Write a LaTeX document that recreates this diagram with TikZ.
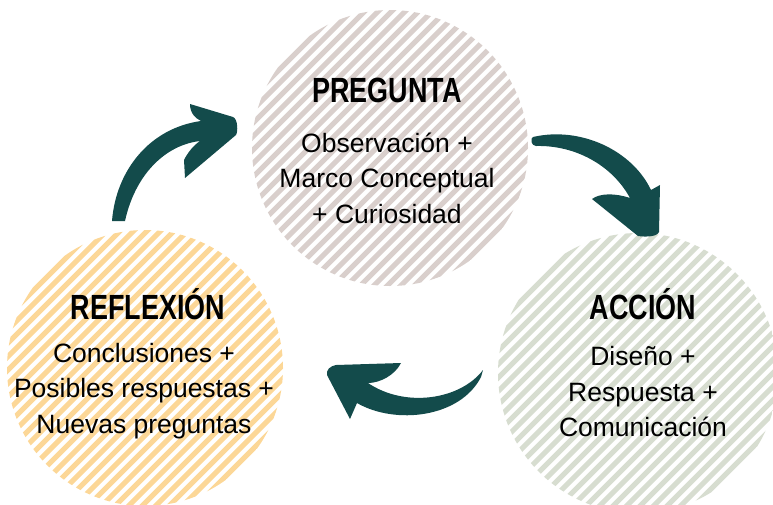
\documentclass[tikz,border=0pt]{standalone}
\usepackage{fontspec}
\setmainfont{Liberation Sans}
\newfontfamily\titlefont{Liberation Sans}[FakeStretch=0.77]
\usepackage{tikz}
\usetikzlibrary{calc}
\usepackage{xcolor}
\definecolor{arrowteal}{HTML}{134B4B}
\definecolor{pinkgray}{HTML}{D9CFCC}
\definecolor{sandy}{HTML}{FCD797}
\definecolor{sage}{HTML}{D7DDD0}
\begin{document}
\begin{tikzpicture}[x=1pt,y=-1pt,
			stage/.style={circle, minimum size=#1, inner sep=0pt},
			stripes/.style={path picture={
				\foreach \k in {-22,...,22}
				\draw[line width=5.2pt,#1] ($(path picture bounding box.center)+(\k*13.5-170,170)$) -- ++(340,-340);}},
			title/.style={font=\titlefont\bfseries\fontsize{35}{40}\selectfont, text height=25pt, text depth=0pt},
			body/.style={align=center, font=\fontsize{26.5}{35.5}\selectfont}]
			\useasboundingbox (0,0) rectangle (773,504);
			\node [stage=276pt, stripes=pinkgray] (pregunta) at (390,148) {};
			\node [stage=276pt, stripes=sandy] (reflexion) at (145,368) {};
			\node [stage=280pt, stripes=sage] (accion) at (638,373) {};
			\node [title] (preguntaTitle) at (387,90) {PREGUNTA};
			\node [body] (preguntaText) at (387,178) {Observación +\\Marco Conceptual\\+ Curiosidad};
			\node [title] (reflexionTitle) at (148,307) {REFLEXIÓN};
			\node [body] (reflexionText) at (144,391) {Conclusiones +\\Posibles respuestas +\\Nuevas preguntas};
			\node [title] (accionTitle) at (643,307) {ACCIÓN};
			\node [body] (accionText) at (643,392) {Diseño +\\Respuesta +\\Comunicación};
			% reflexion -> pregunta
			\fill [arrowteal] (112,221) .. controls (116,170) and (150,128) .. (201,121)
			.. controls (195,118) and (190,113) .. (190,104)
			-- (233,117) .. controls (238,119) and (238,132) .. (236,135)
			-- (185,178) -- (184,160)
			.. controls (188,152) and (194,145) .. (200,141)
			.. controls (165,145) and (135,175) .. (125,221) -- cycle;
			% pregunta -> accion
			\fill [arrowteal] (533,137) .. controls (580,126) and (632,150) .. (651,190)
			-- (660,185) -- (659,232) .. controls (657,237) and (645,237) .. (638,236)
			-- (592,199) .. controls (600,193) and (615,193) .. (630,198)
			.. controls (612,165) and (575,145) .. (536,146)
			.. controls (531,146) and (530,138) .. (533,137) -- cycle;
			% accion -> reflexion
			\fill [arrowteal] (483,370) .. controls (460,400) and (405,408) .. (368,383)
			.. controls (380,383) and (395,375) .. (401,363)
			-- (336,365) .. controls (330,366) and (326,370) .. (327,375)
			-- (350,419) -- (357,403)
			.. controls (395,425) and (460,418) .. (481,377) -- cycle;
		\end{tikzpicture}
\end{document}
